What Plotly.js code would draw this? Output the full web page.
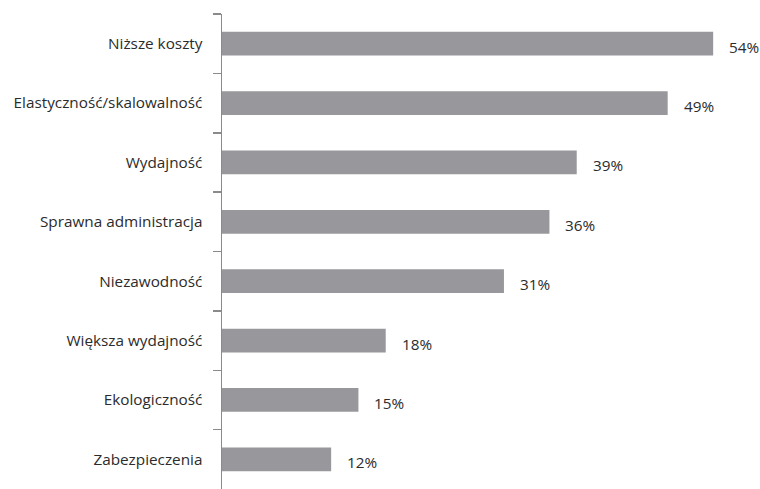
<!DOCTYPE html>
<html><head><meta charset="utf-8">
<script src="https://cdn.plot.ly/plotly-3.0.1.min.js"></script>
<style>html,body{margin:0;padding:0;background:#fff}#c{width:760px;height:489px}</style>
</head><body><div id="c"></div>
<script>
const categories = ["Niższe koszty","Elastyczność/skalowalność","Wydajność","Sprawna administracja","Niezawodność","Większa wydajność","Ekologiczność","Zabezpieczenia"];
const values = [54,49,39,36,31,18,15,12];
const valueLabels = ["54%","49%","39%","36%","31%","18%","15%","12%"];

const font = {family: "Open Sans, Lato, sans-serif", size: 15.3, color: "#2b2b2b"};
const trace = {
  type: "bar", orientation: "h", x: values, y: categories,
  marker: {color: "#98989c"}, width: 0.4, hoverinfo: "skip"
};
const annotations = categories.map((c, i) => ({
  x: values[i], y: c, text: valueLabels[i], showarrow: false,
  xanchor: "left", xshift: 14, yshift: -3, font: font
}));
Plotly.newPlot("c", [trace], {
  width: 760, height: 489,
  margin: {l: 222, r: 0, t: 14, b: 0},
  paper_bgcolor: "#fff", plot_bgcolor: "#fff",
  showlegend: false, font: font,
  xaxis: {range: [0, 59.15], visible: false, fixedrange: true},
  yaxis: {autorange: "reversed", showline: true, linecolor: "#8a8a8a", linewidth: 1.5,
    ticks: "outside", tickson: "boundaries", ticklen: 8, tickcolor: "#8a8a8a", tickwidth: 1.5,
    ticklabelstandoff: 15, showgrid: false, zeroline: false, tickfont: font},
  annotations: annotations
}, {displayModeBar: false, staticPlot: true});
</script></body></html>
